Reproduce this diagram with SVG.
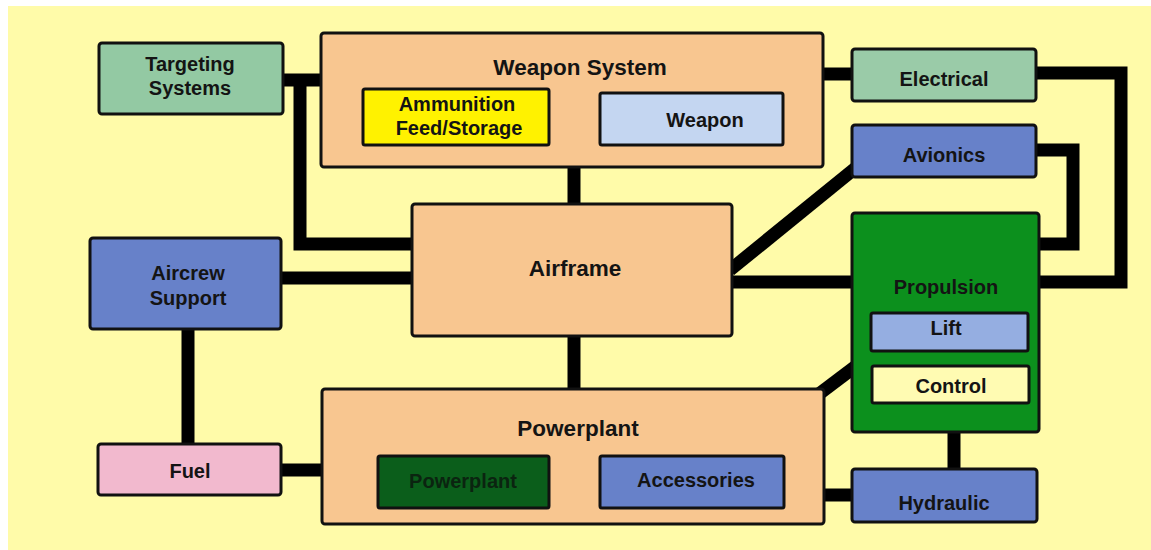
<svg xmlns="http://www.w3.org/2000/svg" width="1151" height="550" viewBox="0 0 1151 550">
<style>
.n{stroke:#111;stroke-width:3}
.t{font-family:"Liberation Sans",Arial,sans-serif;font-weight:bold;font-size:20px;fill:#141414;text-anchor:middle}
.big{font-size:22.5px}
.c{stroke:#000;stroke-width:13;fill:none;stroke-linejoin:miter;stroke-linecap:butt}
</style>
<rect x="0" y="0" width="1151" height="550" fill="#fff"/>
<rect x="8" y="6" width="1143" height="544" fill="#FFFBA9"/>
<g id="connectors">
<path class="c" d="M283 80 H321"/>
<path class="c" d="M300 80 V244 H412"/>
<path class="c" d="M281 278 H412"/>
<path class="c" d="M188 329 V444"/>
<path class="c" d="M281 470 H322"/>
<path class="c" d="M574 166 V205"/>
<path class="c" d="M574 336 V390"/>
<path class="c" d="M730 270 L858 166"/>
<path class="c" d="M732 282 H852"/>
<path class="c" d="M823 74 H853"/>
<path class="c" d="M1036 73 H1121 V282 H1038"/>
<path class="c" d="M1036 150 H1073 V244 H1038"/>
<path class="c" d="M815 397 L860 363"/>
<path class="c" d="M954 432 V470"/>
<path class="c" d="M824 495 H852"/>
<path class="c" d="M549 481 H600"/>
</g>
<g id="targeting">
<rect class="n" x="99" y="43" width="184" height="71" rx="3" fill="#93C9A3"/>
<text class="t" x="190" y="71">Targeting</text>
<text class="t" x="190" y="95">Systems</text>
</g>
<g id="weapon-system">
<rect class="n" x="321" y="33" width="502" height="134" rx="3" fill="#F8C690"/>
<text class="t big" x="580" y="75">Weapon System</text>
</g>
<g id="ammunition">
<rect class="n" x="363" y="89" width="186" height="56" rx="2" fill="#FFF200"/>
<text class="t" x="457" y="111">Ammunition</text>
<text class="t" x="459" y="135">Feed/Storage</text>
</g>
<g id="weapon">
<rect class="n" x="600" y="93" width="183" height="52" rx="2" fill="#C4D6F1"/>
<text class="t" x="705" y="127">Weapon</text>
</g>
<g id="electrical">
<rect class="n" x="852" y="49" width="184" height="52" rx="3" fill="#9ACBA8"/>
<text class="t" x="944" y="86">Electrical</text>
</g>
<g id="avionics">
<rect class="n" x="852" y="125" width="184" height="52" rx="3" fill="#6781C9"/>
<text class="t" x="944" y="162">Avionics</text>
</g>
<g id="propulsion">
<rect class="n" x="852" y="213" width="187" height="219" rx="3" fill="#0C901D"/>
<text class="t" x="946" y="294">Propulsion</text>
</g>
<g id="lift">
<rect class="n" x="871" y="313" width="157" height="38" rx="2" fill="#95AEE1"/>
<text class="t" x="946" y="335">Lift</text>
</g>
<g id="control">
<rect class="n" x="872" y="366" width="157" height="37" rx="2" fill="#FFFBB2"/>
<text class="t" x="951" y="393">Control</text>
</g>
<g id="hydraulic">
<rect class="n" x="852" y="469" width="185" height="53" rx="3" fill="#6781C9"/>
<text class="t" x="944" y="510">Hydraulic</text>
</g>
<g id="airframe">
<rect class="n" x="412" y="204" width="320" height="132" rx="3" fill="#F8C690"/>
<text class="t big" x="575" y="276">Airframe</text>
</g>
<g id="aircrew">
<rect class="n" x="90" y="238" width="191" height="91" rx="3" fill="#6781C9"/>
<text class="t" x="188" y="280">Aircrew</text>
<text class="t" x="188" y="305">Support</text>
</g>
<g id="fuel">
<rect class="n" x="98" y="444" width="183" height="51" rx="3" fill="#F2B9CE"/>
<text class="t" x="190" y="478">Fuel</text>
</g>
<g id="powerplant">
<rect class="n" x="322" y="389" width="502" height="135" rx="3" fill="#F8C690"/>
<text class="t big" x="578" y="436">Powerplant</text>
</g>
<g id="powerplant-inner">
<rect class="n" x="378" y="456" width="171" height="52" rx="2" fill="#0B5E1B"/>
<text class="t" x="463" y="488" style="fill:#0b2410">Powerplant</text>
</g>
<g id="accessories">
<rect class="n" x="600" y="456" width="184" height="52" rx="2" fill="#6781C9"/>
<text class="t" x="696" y="487">Accessories</text>
</g>
</svg>
